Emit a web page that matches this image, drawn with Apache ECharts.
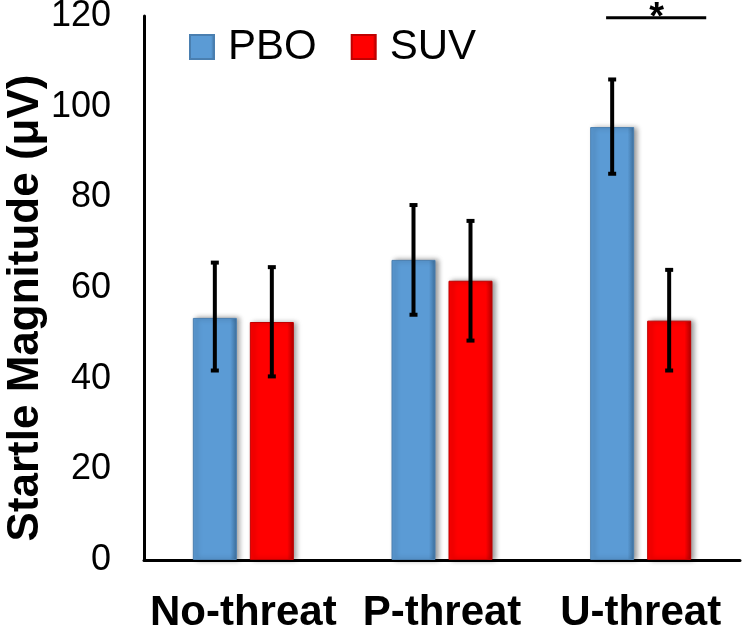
<!DOCTYPE html>
<html>
<head>
<meta charset="utf-8">
<script src="https://cdn.jsdelivr.net/npm/echarts@6/dist/echarts.min.js"></script>
<style>
html,body{margin:0;padding:0;background:#fff;}
#chart{width:749px;height:629px;}
</style>
</head>
<body>
<div id="chart"></div>
<script>
// ---- data ----
const categories = ['No-threat', 'P-threat', 'U-threat'];
const seriesNames = ['PBO', 'SUV'];
const pboMean = [53.4, 66.2, 95.5];
const suvMean = [52.5, 61.6, 52.8];
const pboLow  = [41.8, 54.1, 85.2];
const pboHigh = [65.6, 78.3, 106.0];
const suvLow  = [40.5, 48.4, 41.8];
const suvHigh = [64.6, 74.8, 64.0];
const yTicks = [0, 20, 40, 60, 80, 100, 120];
const yTitle = 'Startle Magnitude (μV)';
const sigCategory = 2;
const sigLevel = 119.6;
const sigLabel = '*';

// ---- style ----
const FONT = "'Liberation Sans', Arial, sans-serif";
const BAR_W = 44;
const BAR_GAP = 13;
const OFFSET = (BAR_W + BAR_GAP) / 2;
const BLUE = '#5B9BD5';
const RED = '#FF0000';

function barGrad(c1, c2) {
  return new echarts.graphic.LinearGradient(0, 0, 1, 0, [
    {offset: 0, color: c1}, {offset: 0.85, color: c1}, {offset: 1, color: c2}
  ]);
}

function errData(low, high) {
  return categories.map((c, i) => [i, low[i], high[i]]);
}

function errRender(dx) {
  return function (params, api) {
    const i = api.value(0);
    const lo = api.coord([i, api.value(1)]);
    const hi = api.coord([i, api.value(2)]);
    const x = lo[0] + dx;
    const cap = 4;
    const st = {stroke: '#000', lineWidth: 4};
    return {
      type: 'group',
      children: [
        {type: 'line', shape: {x1: x, y1: hi[1], x2: x, y2: lo[1]}, style: st},
        {type: 'line', shape: {x1: x - cap, y1: hi[1], x2: x + cap, y2: hi[1]}, style: st},
        {type: 'line', shape: {x1: x - cap, y1: lo[1], x2: x + cap, y2: lo[1]}, style: st}
      ]
    };
  };
}

const chart = echarts.init(document.getElementById('chart'));
chart.setOption({
  animation: false,
  backgroundColor: '#fff',
  grid: {left: 144, right: 9, top: 16, bottom: 69, containLabel: false, outerBoundsMode: 'none'},
  legend: {
    data: seriesNames,
    left: 184, top: 21,
    icon: 'rect', itemWidth: 24, itemHeight: 24, itemGap: 34,
    textStyle: {fontSize: 42, color: '#000', fontFamily: FONT, padding: [0, 0, 0, 9]}
  },
  graphic: [{
    type: 'text', x: 26, y: 308, rotation: Math.PI / 2, silent: true,
    style: {text: yTitle, fontSize: 44, fontWeight: 'bold', fill: '#000', fontFamily: FONT,
      align: 'center', verticalAlign: 'middle'}
  }],
  xAxis: {
    type: 'category',
    data: categories,
    axisLine: {lineStyle: {color: '#000', width: 3}},
    axisTick: {show: false},
    axisLabel: {fontSize: 42, fontWeight: 'bold', color: '#000', fontFamily: FONT, margin: 32, interval: 0}
  },
  yAxis: {
    type: 'value',
    min: yTicks[0], max: yTicks[yTicks.length - 1], interval: yTicks[1] - yTicks[0],
    axisLine: {show: true, lineStyle: {color: '#000', width: 3}},
    axisTick: {show: false},
    splitLine: {show: false},
    axisLabel: {fontSize: 36, color: '#000', fontFamily: FONT, margin: 33}
  },
  series: [
    {
      name: 'PBO', type: 'bar', data: pboMean, barWidth: BAR_W, barGap: (BAR_GAP / BAR_W * 100) + '%',
      itemStyle: {color: barGrad(BLUE, '#3D6F9C'), borderColor: '#4A7FB0', borderWidth: 1,
        shadowColor: 'rgba(0,0,0,0.4)', shadowBlur: 5, shadowOffsetX: 3}
    },
    {
      name: 'SUV', type: 'bar', data: suvMean, barWidth: BAR_W,
      itemStyle: {color: barGrad(RED, '#B00000'), borderColor: '#C00000', borderWidth: 1,
        shadowColor: 'rgba(0,0,0,0.4)', shadowBlur: 5, shadowOffsetX: 3}
    },
    {
      type: 'custom', name: 'PBO err', data: errData(pboLow, pboHigh),
      renderItem: errRender(-OFFSET), encode: {x: 0, y: [1, 2]}, z: 5, silent: true
    },
    {
      type: 'custom', name: 'SUV err', data: errData(suvLow, suvHigh),
      renderItem: errRender(OFFSET), encode: {x: 0, y: [1, 2]}, z: 5, silent: true
    },
    {
      type: 'custom', name: 'sig', data: [[sigCategory, sigLevel]], clip: false, z: 6, silent: true,
      encode: {x: 0, y: 1},
      renderItem: function (params, api) {
        const p = api.coord([api.value(0), api.value(1)]);
        const band = api.size([1, 0])[0];
        const x1 = p[0] - 0.174 * band, x2 = p[0] + 0.33 * band;
        return {
          type: 'group',
          children: [
            {type: 'line', shape: {x1: x1, y1: p[1], x2: x2, y2: p[1]}, style: {stroke: '#000', lineWidth: 3}},
            {type: 'text', x: p[0] + 0.08 * band, y: p[1] + 20,
              style: {text: sigLabel, fontSize: 38, fontWeight: 'bold', fill: '#000', fontFamily: FONT,
                align: 'center', verticalAlign: 'bottom'}}
          ]
        };
      }
    }
  ]
});
</script>
</body>
</html>
